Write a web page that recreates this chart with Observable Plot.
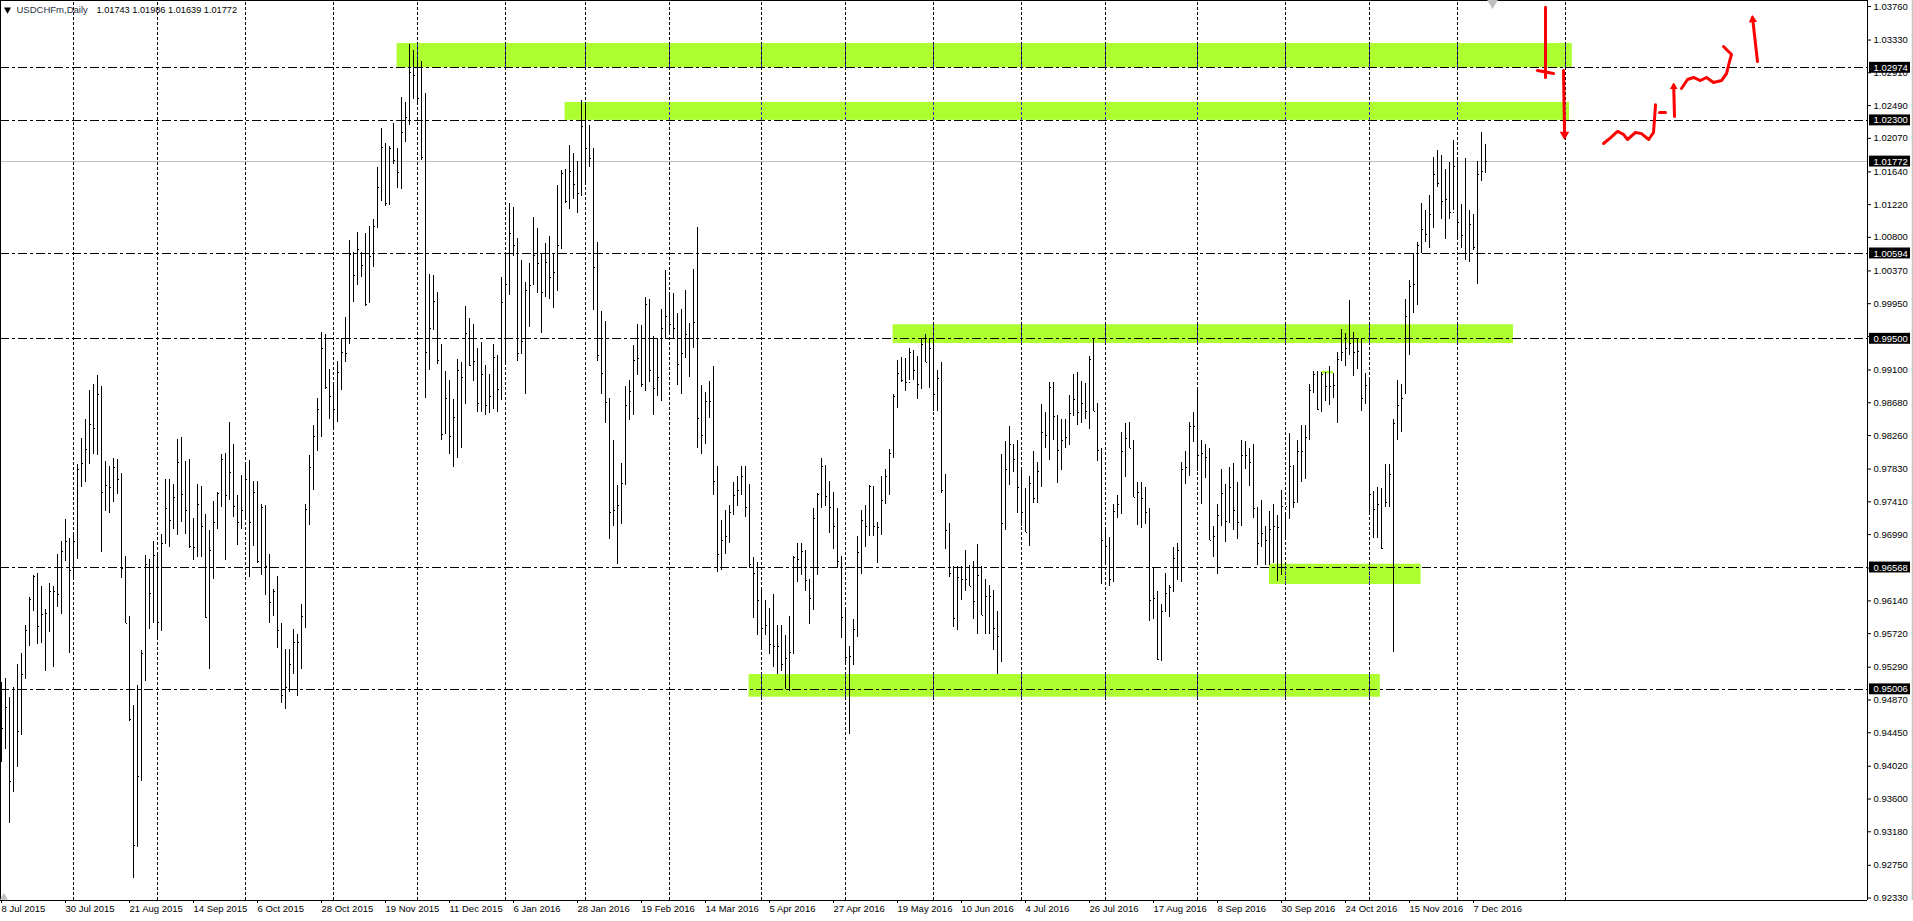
<!DOCTYPE html>
<html>
<head>
<meta charset="utf-8">
<style>html,body{margin:0;padding:0;background:#fff;overflow:hidden}svg{display:block}</style>
<script src="https://cdn.jsdelivr.net/npm/d3@7"></script>
<script src="https://cdn.jsdelivr.net/npm/@observablehq/plot@0.6"></script>
</head>
<body>
<div id="chart"></div>
<script>
// Daily OHLC of USDCHFm, in 1/10000 of a franc, bar by bar
const highs = [9510,9515,9490,9503,9533,9547,9583,9618,9647,9649,
9632,9603,9636,9632,9674,9690,9718,9694,9701,9789,
9822,9847,9884,9891,9903,9889,9793,9786,9797,9795,
9777,9671,9594,9480,9506,9551,9672,9667,9690,9676,
9699,9769,9769,9763,9821,9823,9793,9795,9720,9763,
9761,9725,9704,9741,9753,9802,9803,9843,9815,9749,
9775,9792,9794,9767,9767,9738,9736,9674,9629,9645,
9585,9552,9552,9577,9571,9610,9738,9800,9839,9873,
9958,9956,9911,9891,9921,9951,9977,10076,10061,10086,
10060,10085,10094,10103,10170,10220,10201,10196,10226,10194,
10259,10253,10327,10320,10307,10306,10264,10033,10031,10009,
9943,9908,9897,9872,9924,9919,9991,9976,9968,9937,
9945,9916,9904,9943,9929,10029,10059,10123,10118,10079,
10051,10022,10046,10105,10091,10059,10072,10081,10059,10146,
10166,10167,10198,10188,10177,10255,10253,10223,10194,10073,
9985,9972,9873,9820,9762,9790,9889,9897,9941,9968,
9967,10003,10000,9953,9951,9988,10038,10009,10008,9982,
9987,10012,9969,10039,10093,9890,9881,9895,9914,9786,
9717,9730,9736,9766,9773,9786,9786,9763,9670,9663,
9629,9614,9604,9622,9582,9582,9570,9594,9671,9687,
9688,9679,9641,9733,9752,9796,9788,9767,9753,9732,
9671,9606,9555,9590,9697,9730,9736,9762,9761,9714,
9774,9783,9808,9879,9922,9926,9925,9937,9935,9927,
9950,9955,9950,9951,9910,9919,9776,9713,9658,9658,
9658,9679,9659,9664,9686,9658,9641,9634,9627,9600,
9802,9818,9838,9814,9820,9783,9758,9773,9805,9791,
9866,9856,9894,9894,9852,9846,9846,9877,9904,9907,
9895,9893,9927,9950,9867,9810,9706,9695,9738,9749,
9830,9841,9843,9820,9766,9766,9760,9733,9657,9626,
9610,9649,9634,9682,9688,9791,9806,9843,9856,9884,
9820,9815,9810,9709,9738,9783,9763,9785,9790,9766,
9819,9818,9810,9815,9734,9743,9709,9729,9738,9723,
9756,9726,9828,9788,9819,9839,9839,9892,9908,9908,
9907,9907,9914,9906,9932,9962,9957,9999,9958,9950,
9950,9906,9899,9754,9759,9758,9789,9789,9847,9897,
9892,10001,10025,10059,10073,10123,10115,10134,10182,10191,
10185,10167,10176,10204,10179,10122,10181,10114,10109,10177,
10214,10199];
const lows = [9407,9424,9329,9368,9400,9442,9513,9556,9600,9558,
9560,9524,9573,9529,9605,9597,9665,9547,9642,9667,
9759,9766,9789,9802,9800,9676,9729,9726,9740,9750,
9643,9585,9460,9258,9298,9383,9511,9577,9585,9565,
9575,9687,9682,9706,9698,9714,9699,9681,9666,9669,
9669,9591,9526,9642,9706,9734,9666,9743,9721,9685,
9706,9718,9644,9684,9662,9647,9621,9585,9594,9553,
9483,9475,9496,9520,9492,9526,9579,9711,9755,9805,
9824,9885,9847,9834,9843,9884,9920,9943,9997,10018,
10028,9991,9997,10042,10091,10126,10120,10121,10174,10143,
10142,10202,10223,10257,10250,10178,9874,9910,9960,9917,
9819,9829,9802,9785,9797,9810,9867,9914,9895,9856,
9857,9852,9854,9860,9856,9871,9919,10006,10056,9921,
9931,9879,9965,10020,10008,9957,10003,10000,9989,10011,
10065,10124,10116,10129,10110,10132,10149,10169,9986,9921,
9879,9841,9693,9709,9661,9712,9763,9845,9852,9903,
9887,9883,9894,9852,9876,9870,9949,9957,9950,9890,
9878,9926,9901,9938,9809,9802,9815,9848,9749,9650,
9653,9674,9688,9723,9735,9749,9721,9656,9592,9570,
9550,9569,9545,9529,9520,9524,9500,9498,9547,9637,
9647,9626,9584,9602,9647,9732,9735,9701,9680,9656,
9566,9534,9443,9531,9567,9648,9683,9697,9697,9662,
9699,9738,9749,9797,9861,9894,9882,9896,9896,9872,
9885,9920,9886,9857,9857,9752,9680,9644,9580,9576,
9615,9626,9632,9590,9571,9595,9571,9571,9550,9520,
9535,9704,9762,9779,9726,9709,9702,9684,9739,9739,
9759,9811,9794,9820,9764,9781,9810,9813,9850,9839,
9842,9847,9834,9857,9793,9635,9662,9633,9637,9720,
9725,9772,9809,9746,9711,9707,9712,9588,9590,9537,
9538,9600,9593,9625,9640,9638,9763,9773,9817,9780,
9738,9771,9692,9669,9648,9710,9689,9715,9704,9693,
9710,9782,9761,9719,9659,9683,9659,9659,9662,9639,
9647,9693,9719,9732,9739,9766,9770,9820,9880,9858,
9855,9870,9864,9874,9841,9921,9915,9929,9902,9911,
9857,9867,9727,9694,9694,9680,9734,9734,9548,9819,
9830,9880,9928,9983,9993,10059,10074,10066,10091,10144,
10103,10077,10103,10114,10078,10066,10050,10048,10063,10019,
10152,10162];
const opens = [9470,9450,9477,9399,9501,9446,9519,9576,9611,9645,
9581,9597,9600,9620,9620,9622,9677,9690,9658,9690,
9782,9790,9808,9825,9835,9878,9753,9762,9760,9785,
9770,9656,9585,9461,9300,9389,9547,9661,9624,9672,
9586,9688,9732,9717,9745,9791,9751,9730,9690,9682,
9737,9710,9593,9696,9715,9752,9794,9749,9777,9735,
9715,9730,9769,9713,9754,9664,9735,9658,9610,9626,
9576,9493,9536,9532,9561,9562,9594,9731,9790,9825,
9862,9938,9890,9864,9859,9906,9932,9951,10048,10031,
10060,10044,9997,10061,10094,10143,10198,10126,10194,10179,
10163,10204,10231,10287,10287,10258,10182,9930,9970,9998,
9921,9829,9871,9831,9849,9910,9867,9958,9918,9922,
9857,9905,9864,9879,9927,9885,10005,10019,10085,10071,
9931,9942,10013,10020,10045,10013,10009,10048,10027,10035,
10072,10156,10127,10165,10148,10136,10221,10194,10181,10041,
9928,9921,9868,9727,9736,9722,9763,9865,9879,9922,
9926,9884,9994,9911,9886,9901,9974,9979,9972,9963,
9917,9926,9956,9948,9971,9847,9820,9870,9869,9767,
9674,9697,9697,9726,9750,9755,9770,9734,9661,9649,
9615,9572,9583,9559,9556,9556,9518,9541,9547,9667,
9667,9653,9639,9618,9720,9750,9786,9748,9734,9710,
9666,9570,9542,9542,9577,9676,9717,9709,9760,9709,
9699,9740,9774,9803,9875,9905,9905,9894,9932,9910,
9891,9945,9920,9937,9878,9899,9755,9703,9649,9591,
9645,9627,9642,9632,9613,9647,9573,9619,9619,9579,
9568,9737,9782,9814,9795,9759,9718,9702,9764,9744,
9780,9811,9826,9887,9852,9807,9812,9823,9854,9872,
9855,9867,9856,9922,9856,9807,9692,9682,9641,9729,
9738,9774,9823,9810,9747,9753,9727,9727,9605,9616,
9538,9601,9623,9631,9668,9674,9778,9780,9832,9837,
9800,9794,9798,9695,9697,9724,9741,9715,9756,9730,
9715,9788,9800,9791,9733,9687,9688,9691,9705,9709,
9708,9701,9719,9786,9740,9774,9793,9824,9884,9879,
9860,9900,9897,9893,9886,9923,9938,9931,9940,9931,
9934,9867,9883,9751,9730,9738,9769,9740,9765,9846,
9873,9880,9979,10017,9999,10070,10099,10084,10109,10154,
10149,10119,10114,10112,10165,10099,10109,10059,10096,10070,
10160,10174];
const closes = [9450,9477,9382,9501,9446,9519,9576,9616,9645,9581,
9597,9598,9626,9626,9622,9677,9690,9653,9690,9782,
9790,9808,9840,9835,9879,9753,9762,9760,9785,9770,
9655,9585,9462,9300,9389,9546,9661,9624,9672,9586,
9688,9732,9717,9747,9791,9751,9730,9684,9682,9737,
9710,9593,9679,9715,9752,9795,9749,9779,9735,9715,
9730,9770,9714,9753,9664,9734,9658,9612,9626,9576,
9493,9503,9532,9561,9561,9594,9731,9785,9825,9860,
9938,9888,9876,9859,9907,9932,9931,10058,10031,10064,
10044,9994,10055,10094,10144,10195,10124,10194,10179,10163,
10214,10234,10291,10287,10258,10182,9932,9963,9998,9922,
9827,9873,9825,9849,9910,9900,9957,9916,9921,9867,
9904,9864,9876,9926,9885,9997,10019,10085,10070,9931,
9946,10012,10018,10057,10047,10009,10048,10028,10035,10070,
10162,10126,10165,10148,10136,10222,10194,10181,10041,9928,
9905,9868,9727,9730,9736,9764,9865,9882,9922,9925,
9892,9994,9910,9886,9901,9963,9979,9968,9963,9917,
9931,9956,9951,9971,9848,9826,9870,9869,9767,9674,
9691,9697,9727,9749,9756,9774,9734,9661,9649,9615,
9578,9583,9558,9556,9556,9533,9540,9548,9669,9667,
9677,9640,9617,9719,9750,9786,9748,9734,9710,9665,
9593,9542,9543,9577,9676,9717,9709,9761,9709,9708,
9743,9774,9803,9876,9905,9897,9894,9932,9910,9891,
9943,9920,9937,9878,9899,9755,9704,9649,9591,9644,
9641,9642,9632,9613,9647,9595,9619,9619,9579,9568,
9713,9782,9814,9795,9759,9727,9702,9765,9745,9780,
9830,9826,9887,9850,9807,9820,9823,9854,9872,9855,
9867,9857,9923,9857,9807,9692,9684,9641,9729,9738,
9805,9822,9809,9747,9753,9745,9727,9615,9617,9539,
9601,9623,9631,9668,9679,9782,9785,9838,9837,9800,
9803,9798,9692,9697,9724,9752,9716,9760,9730,9715,
9801,9800,9791,9732,9687,9700,9691,9705,9709,9708,
9735,9735,9786,9740,9806,9806,9824,9884,9904,9860,
9904,9889,9889,9890,9924,9933,9937,9944,9932,9934,
9874,9890,9751,9731,9738,9681,9740,9776,9841,9864,
9874,9979,10017,10020,10070,10090,10084,10109,10161,10149,
10126,10128,10112,10171,10099,10083,10059,10096,10067,10161,
10164,10177];

// Time axis: a label every 16 bars
const dateLabels = ["8 Jul 2015","30 Jul 2015","21 Aug 2015","14 Sep 2015","6 Oct 2015","28 Oct 2015","19 Nov 2015","11 Dec 2015","6 Jan 2016","28 Jan 2016","19 Feb 2016","14 Mar 2016","5 Apr 2016","27 Apr 2016","19 May 2016","10 Jun 2016","4 Jul 2016","26 Jul 2016","17 Aug 2016","8 Sep 2016","30 Sep 2016","24 Oct 2016","15 Nov 2016","7 Dec 2016"];
const gridBars = [18,39,61,83,104,126,146,167,190,211,233,255,276,299,321,342,364,391];

// Price axis
const priceTicks = [1.0376,1.0333,1.0291,1.0249,1.0207,1.0164,1.0122,1.008,1.0037,0.9995,0.9953,0.991,0.9868,0.9826,0.9783,0.9741,0.9699,0.9656,0.9614,0.9572,0.9529,0.9487,0.9445,0.9402,0.936,0.9318,0.9275,0.9233];
const levels = [1.02974,1.023,1.00594,0.995,0.96568,0.95006];
const lastPrice = 1.01772;

// Green zones: first bar, last bar, top price, bottom price
const zoneStart = [98.9,140.9,222.9,317,186.9,330];
const zoneEnd   = [392.7,392,378,354.9,344.7,333];
const zoneTop   = [1.03286,1.0253,0.9968,0.9661,0.95196,0.9908];
const zoneBot   = [1.02974,1.023,0.9944,0.9635,0.94905,0.9905];

// Hand-drawn red strokes, bar position and price
const redBars = [
  [386,386],[384,388],[390.5,390.75],
  [400.5,402.3,404,405.5,406.5,408.5,410,411.8,413,413.3,413.5],
  [414.5,416],[418.25,418.05],
  [420,421.5,423,424.75,426.25,428,430,431.25,432,432.5,430.5],
  [439,437.75]
];
const redPrices = [
  [1.0375,1.0285],[1.0294,1.029],[1.0294,1.0215],
  [1.02004,1.0208,1.02158,1.0212,1.02055,1.02145,1.0213,1.02055,1.02145,1.0235,1.025],
  [1.024,1.024],[1.0235,1.0275],
  [1.02709,1.02824,1.0285,1.02811,1.0285,1.02786,1.02811,1.029,1.03055,1.03145,1.03247],
  [1.03055,1.0362]
];
const redHeads = [
  {i:390.75,p:1.0212,r:7,a:180},
  {i:418.05,p:1.0273,r:4.5,a:0},
  {i:437.8,p:1.0359,r:5.5,a:-5}
];

const bars = d3.range(highs.length).map(i => ({
  i, o: opens[i]/1e4, h: highs[i]/1e4, l: lows[i]/1e4, c: closes[i]/1e4
}));
const zones = zoneStart.map((s,k) => ({s, e: zoneEnd[k], t: zoneTop[k], b: zoneBot[k]}));
const zoneGrid = zones.slice(0,5).flatMap(z => gridBars.filter(g => g > z.s && g < z.e).map(g => ({g, t: z.t, b: z.b})));
const boxes = [...levels, lastPrice];

const font = "'Liberation Sans', Arial, sans-serif";
const fs = 9.5;
const plot = Plot.plot({
  width: 1913, height: 921,
  marginLeft: 0, marginRight: 46, marginTop: 0, marginBottom: 21,
  x: {domain: [-0.25, 466.5]},
  y: {domain: [0.92299, 1.03837]},
  style: {fontFamily: font, fontSize: fs + "px", background: "#fff", color: "#000"},
  marks: [
    Plot.rect(zones, {x1: "s", x2: "e", y1: "b", y2: "t", fill: "#adff2f"}),
    Plot.ruleX(gridBars, {stroke: "#000", strokeDasharray: "3,2", shapeRendering: "crispEdges", y1: 0.92299, y2: 1.03837}),
    Plot.ruleX(zoneGrid, {x: "g", y1: "b", y2: "t", stroke: "#3f1fb8", strokeDasharray: "3,2", shapeRendering: "crispEdges"}),
    Plot.ruleY([lastPrice], {stroke: "#c0c0c0", shapeRendering: "crispEdges"}),
    Plot.ruleY(levels, {stroke: "#000", strokeDasharray: "9,3,3,3", shapeRendering: "crispEdges"}),
    Plot.ruleX(bars, {x: "i", y1: "l", y2: "h", stroke: "#000", shapeRendering: "crispEdges"}),
    Plot.link(bars, {x1: d => d.i - 0.25, x2: "i", y1: "o", y2: "o", stroke: "#000", shapeRendering: "crispEdges"}),
    Plot.link(bars, {x1: "i", x2: d => d.i + 0.38, y1: "c", y2: "c", stroke: "#000", shapeRendering: "crispEdges"}),
    ...redBars.map((xs,k) => Plot.line(xs.map((x,j) => [x, redPrices[k][j]]), {stroke: "#ff0000", strokeWidth: 3, strokeLinejoin: "round", strokeLinecap: "round"})),
    Plot.dot(redHeads, {x: "i", y: "p", r: "r", rotate: "a", symbol: "triangle", fill: "#ff0000", stroke: "none"}),
    // frame
    Plot.ruleX([-0.25], {stroke: "#000"}),
    Plot.ruleX([466.5], {stroke: "#000"}),
    Plot.ruleY([1.03837], {stroke: "#000"}),
    Plot.ruleY([0.92299], {stroke: "#000"}),
    Plot.axisY(priceTicks, {anchor: "right", tickSize: 3, tickPadding: 3, tickFormat: d => d.toFixed(5), label: null, fontSize: fs}),
    Plot.axisX(dateLabels.map((_,k) => k*16), {anchor: "bottom", tickSize: 3, tickPadding: 2, tickFormat: i => dateLabels[i/16], textAnchor: "start", label: null, fontSize: fs}),
    // price flags
    Plot.rect(boxes, {x1: 467, x2: 477.25, y1: d => d - 0.0007, y2: d => d + 0.0007, fill: "#000"}),
    Plot.text(boxes, {x: 468, y: d => d, text: d => d.toFixed(5), fill: "#fff", textAnchor: "start", fontSize: fs}),
    Plot.ruleX([477.8], {stroke: "#c8c8c8", strokeWidth: 2, y1: 0.92299, y2: 1.03837}),
    // markers and header
    Plot.dot([{i: 372.75, p: 1.0381}], {x: "i", y: "p", r: 4.2, rotate: 180, symbol: "triangle", fill: "#c0c0c0", stroke: "none"}),
    Plot.dot([{i: 0.6, p: 0.9234}], {x: "i", y: "p", r: 3, symbol: "triangle", fill: "#c0c0c0", stroke: "none"}),
    Plot.dot([{i: 1.5, p: 1.0372}], {x: "i", y: "p", r: 2.6, rotate: 180, symbol: "triangle", fill: "#000", stroke: "none"}),
    Plot.text(["USDCHFm,Daily"], {x: 3.75, y: 1.0372, text: d => d, textAnchor: "start", fill: "#1f2f45", fontSize: fs}),
    Plot.text(["1.01743 1.01986 1.01639 1.01772"], {x: 23.75, y: 1.0372, text: d => d, textAnchor: "start", fill: "#000", fontSize: 9.2})
  ]
});
document.getElementById("chart").appendChild(plot);
</script>
</body>
</html>
